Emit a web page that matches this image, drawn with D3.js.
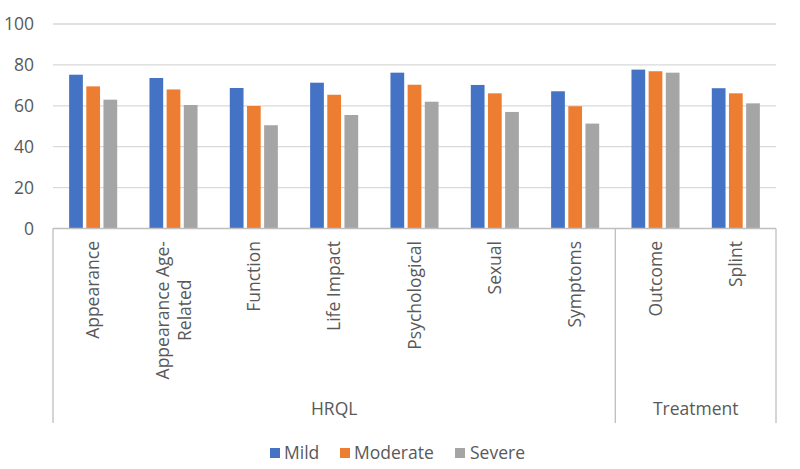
<!DOCTYPE html>
<html>
<head>
<meta charset="utf-8">
<script src="https://cdn.jsdelivr.net/npm/d3@7"></script>
<style>
  body { margin: 0; background: #fff; }
  text { font-family: "Open Sans", sans-serif; fill: #595959; }
</style>
</head>
<body>
<script>
// Dati
const categories = ["Appearance", "Appearance Age-|Related", "Function", "Life Impact", "Psychological", "Sexual", "Symptoms", "Outcome", "Splint"];
const groups = [
  { name: "HRQL", from: 0, to: 6 },
  { name: "Treatment", from: 7, to: 8 }
];
const seriesNames = ["Mild", "Moderate", "Severe"];
const mild = [75.2, 73.6, 68.7, 71.3, 76.2, 70.2, 67.1, 77.7, 68.6];
const moderate = [69.5, 68, 59.9, 65.4, 70.3, 66.1, 59.8, 76.9, 66.1];
const severe = [63, 60.4, 50.5, 55.5, 62, 57, 51.3, 76.2, 61.2];
const yTicks = [0, 20, 40, 60, 80, 100];
const colors = ["#4472C4", "#ED7D31", "#A5A5A5"];

const width = 800,
  height = 469;

const svg = d3.select("body").append("svg").attr("width", width).attr("height", height);

const x0 = d3.scaleBand().domain(d3.range(categories.length)).range([53, 776]);
const x1 = d3.scaleBand().domain(seriesNames).range([0, x0.bandwidth()]).paddingInner(0.2).paddingOuter(0.94);
const y = d3.scaleLinear().domain([0, 100]).range([228.5, 24]);

// Griglia
svg
  .append("g")
  .selectAll("line")
  .data(yTicks.filter((d) => d > 0))
  .enter()
  .append("line")
  .attr("x1", 53)
  .attr("x2", 776)
  .attr("y1", (d) => y(d))
  .attr("y2", (d) => y(d))
  .attr("stroke", "#d9d9d9")
  .attr("stroke-width", 1.3);

// Asse y
const yAxis = svg
  .append("g")
  .attr("transform", "translate(34,0)")
  .call(d3.axisLeft(y).tickValues(yTicks).tickSize(0).tickPadding(0));
yAxis.select(".domain").remove();
yAxis.selectAll("text").style("font-size", "17.5px").attr("fill", "#595959").attr("font-family", "Open Sans");

// Barre
const values = [mild, moderate, severe];
const bars = [];
values.forEach((arr, s) => arr.forEach((v, i) => bars.push({ i, s, v })));

svg
  .append("g")
  .selectAll("rect")
  .data(bars)
  .enter()
  .append("rect")
  .attr("x", (d) => x0(d.i) + x1(seriesNames[d.s]))
  .attr("width", x1.bandwidth())
  .attr("y", (d) => y(d.v))
  .attr("height", (d) => y(0) - y(d.v))
  .attr("fill", (d) => colors[d.s]);

// Asse x e separatori
const axisColor = "#bfbfbf";
svg
  .append("line")
  .attr("x1", 53)
  .attr("x2", 776)
  .attr("y1", y(0))
  .attr("y2", y(0))
  .attr("stroke", axisColor)
  .attr("stroke-width", 1.3);

const bounds = [0, ...groups.map((g) => g.to + 1)];
svg
  .append("g")
  .selectAll("line")
  .data(bounds)
  .enter()
  .append("line")
  .attr("x1", (d) => (d < categories.length ? x0(d) : x0.range()[1]))
  .attr("x2", (d) => (d < categories.length ? x0(d) : x0.range()[1]))
  .attr("y1", y(0))
  .attr("y2", 423)
  .attr("stroke", axisColor)
  .attr("stroke-width", 1.3);

// Etichette categorie (ruotate)
const labelTop = 241;
const labelSize = 17.5;
categories.forEach((c, i) => {
  const lines = c.split("|");
  const cx = x0(i) + x0.bandwidth() / 2;
  const lh = 22;
  const g = svg.append("g");
  const texts = lines.map((l, k) =>
    g
      .append("text")
      .text(l)
      .style("font-size", labelSize + "px")
      .attr("transform", `translate(${cx + (k - (lines.length - 1) / 2) * lh + 6},0) rotate(-90)`)
  );
  const lens = texts.map((t) => t.node().getComputedTextLength());
  const maxLen = d3.max(lens);
  texts.forEach((t) => t.attr("x", -(labelTop + maxLen / 2)).attr("text-anchor", "middle"));
});

// Etichette gruppi
svg
  .append("g")
  .selectAll("text")
  .data(groups)
  .enter()
  .append("text")
  .attr("x", (d) => (x0(d.from) + x0(d.to) + x0.bandwidth()) / 2)
  .attr("y", 415)
  .attr("text-anchor", "middle")
  .style("font-size", "17.5px")
  .text((d) => d.name);

// Legenda
const legendItems = [
  { x: 270, tx: 284 },
  { x: 340, tx: 354 },
  { x: 455, tx: 470 }
];
const legend = svg.append("g");
seriesNames.forEach((n, s) => {
  legend
    .append("rect")
    .attr("x", legendItems[s].x)
    .attr("y", 448)
    .attr("width", 10)
    .attr("height", 10)
    .attr("fill", colors[s]);
  legend
    .append("text")
    .attr("x", legendItems[s].tx)
    .attr("y", 459)
    .style("font-size", "17.5px")
    .text(n);
});
</script>
</body>
</html>
